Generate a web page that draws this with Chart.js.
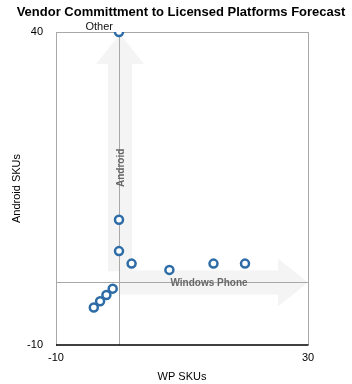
<!DOCTYPE html>
<html>
<head>
<meta charset="utf-8">
<script src="https://cdn.jsdelivr.net/npm/chart.js@4/dist/chart.umd.min.js"></script>
<style>
  html, body { margin: 0; padding: 0; background: #fff; }
  #wrap { width: 352px; height: 384px; }
</style>
</head>
<body>
<div id="wrap"><canvas id="chart" width="352" height="384"></canvas></div>
<script>
// vendor positions: WP SKUs (x) vs Android SKUs (y)
const wpSkus      = [0, 0, 0, 2, 8, 15, 20, -1, -2, -3, -4];
const androidSkus = [40, 10, 5, 3, 2, 3, 3, -1, -2, -3, -4];
const pointNames  = ['Other', '', '', '', '', '', '', '', '', '', ''];
const xTicks = [-10, 30];
const yTicks = [-10, 40];
const chartTitle = 'Vendor Committment to Licensed Platforms Forecast';

const points = wpSkus.map((x, i) => ({ x, y: androidSkus[i], name: pointNames[i] }));

const FONT = '"Liberation Sans", Arial, sans-serif';

// light arrows behind the grid, labels on top
const arrows = {
	id: 'arrows',
	beforeDraw (chart) {
		const { ctx, scales: { x, y } } = chart;
		const x0 = x.getPixelForValue(0);
		const y0 = y.getPixelForValue(0);
		const top = y.getPixelForValue(40) + 2;
		const right = x.getPixelForValue(30);
		const half = 12, head = 24, headLen = 30;

		ctx.save();
		ctx.fillStyle = '#f4f4f4';
		ctx.beginPath();
		ctx.moveTo(x0 - half + 1, y0 - half + 1);
		ctx.lineTo(x0 - half + 1, top + headLen);
		ctx.lineTo(x0 - head + 1, top + headLen);
		ctx.lineTo(x0 + 1, top);
		ctx.lineTo(x0 + head + 1, top + headLen);
		ctx.lineTo(x0 + half + 1, top + headLen);
		ctx.lineTo(x0 + half + 1, y0 - half);
		ctx.closePath();
		ctx.fill();

		ctx.beginPath();
		ctx.moveTo(x0 + 1, y0 - half);
		ctx.lineTo(right - headLen, y0 - half);
		ctx.lineTo(right - headLen, y0 - head);
		ctx.lineTo(right, y0);
		ctx.lineTo(right - headLen, y0 + head);
		ctx.lineTo(right - headLen, y0 + half);
		ctx.lineTo(x0 + 1, y0 + half);
		ctx.closePath();
		ctx.fill();
		ctx.restore();
	},
	afterDatasetsDraw (chart) {
		const { ctx, scales: { x, y } } = chart;
		const x0 = x.getPixelForValue(0);
		const y0 = y.getPixelForValue(0);

		// bottom axis line, only across the plot
		const yb = Math.round(y.getPixelForValue(-10));
		ctx.save();
		ctx.strokeStyle = '#000';
		ctx.lineWidth = 1.5;
		ctx.beginPath();
		ctx.moveTo(x.getPixelForValue(-10), yb);
		ctx.lineTo(x.getPixelForValue(30) + 0.5, yb);
		ctx.stroke();
		ctx.restore();

		ctx.save();
		ctx.fillStyle = '#686868';
		ctx.font = 'bold 10px ' + FONT;
		ctx.textAlign = 'center';
		ctx.textBaseline = 'middle';
		ctx.fillText('Windows Phone', x0 + 90, y0 + 1);

		ctx.translate(x0 + 2, y.getPixelForValue(18.3));
		ctx.rotate(-Math.PI / 2);
		ctx.fillText('Android', 0, 0);
		ctx.restore();

		// point names
		ctx.save();
		ctx.fillStyle = '#111';
		ctx.font = '11px ' + FONT;
		ctx.textAlign = 'right';
		ctx.textBaseline = 'alphabetic';
		points.forEach(p => {
			if (p.name) {
				ctx.fillText(p.name, x.getPixelForValue(p.x) - 6, y.getPixelForValue(p.y) - 2);
			}
		});
		ctx.restore();

		// title, centred a little right of the canvas middle
		ctx.save();
		ctx.fillStyle = '#000';
		ctx.font = 'bold 13px ' + FONT;
		ctx.textAlign = 'center';
		ctx.textBaseline = 'middle';
		ctx.fillText(chartTitle, 181, 12.5);
		ctx.restore();
	}
};

const xGrid = ctx => {
	const v = ctx.tick && ctx.tick.value;
	return v === 0 || v === 30 ? '#a8a8a8' : 'rgba(0,0,0,0)';
};
const yGrid = ctx => {
	const v = ctx.tick && ctx.tick.value;
	return v === 0 || v === 40 ? '#a8a8a8' : 'rgba(0,0,0,0)';
};

new Chart(document.getElementById('chart'), {
	type: 'scatter',
	data: {
		datasets: [{
			data: points,
			pointRadius: 4,
			pointHoverRadius: 4,
			pointBorderWidth: 2.5,
			pointBorderColor: '#2d6ca6',
			pointBackgroundColor: '#fff'
		}]
	},
	options: {
		responsive: false,
		animation: false,
		layout: { padding: { left: 0, right: 44, top: 32, bottom: 0 } },
		plugins: {
			legend: { display: false },
			tooltip: { enabled: false },
			title: { display: false }
		},
		scales: {
			x: {
				type: 'linear',
				min: xTicks[0],
				max: xTicks[1],
				afterBuildTicks: s => {
					s.ticks = [-10, 0, 10, 20, 30].map(value => ({ value }));
				},
				afterFit: s => { s.height = 39; },
				ticks: {
					color: '#000',
					font: { family: FONT, size: 11 },
					padding: 6,
					maxRotation: 0,
					callback: v => xTicks.includes(v) ? v : ''
				},
				grid: { color: xGrid, drawTicks: false, lineWidth: 1 },
				border: { display: false },
				title: {
					display: true,
					text: 'WP SKUs',
					color: '#000',
					font: { family: FONT, size: 11 },
					padding: { top: 4, bottom: 0 }
				}
			},
			y: {
				type: 'linear',
				min: yTicks[0],
				max: yTicks[1],
				afterBuildTicks: s => {
					s.ticks = [-10, 0, 10, 20, 30, 40].map(value => ({ value }));
				},
				afterFit: s => { s.width = 56; },
				ticks: {
					color: '#000',
					font: { family: FONT, size: 11 },
					padding: 13,
					callback: v => yTicks.includes(v) ? v : ''
				},
				grid: { color: yGrid, drawTicks: false, lineWidth: 1 },
				border: { color: '#a8a8a8', width: 1 },
				title: {
					display: true,
					text: 'Android SKUs',
					color: '#000',
					font: { family: FONT, size: 11 },
					padding: { top: 10, bottom: 4 }
				}
			}
		}
	},
	plugins: [arrows]
});
</script>
</body>
</html>
